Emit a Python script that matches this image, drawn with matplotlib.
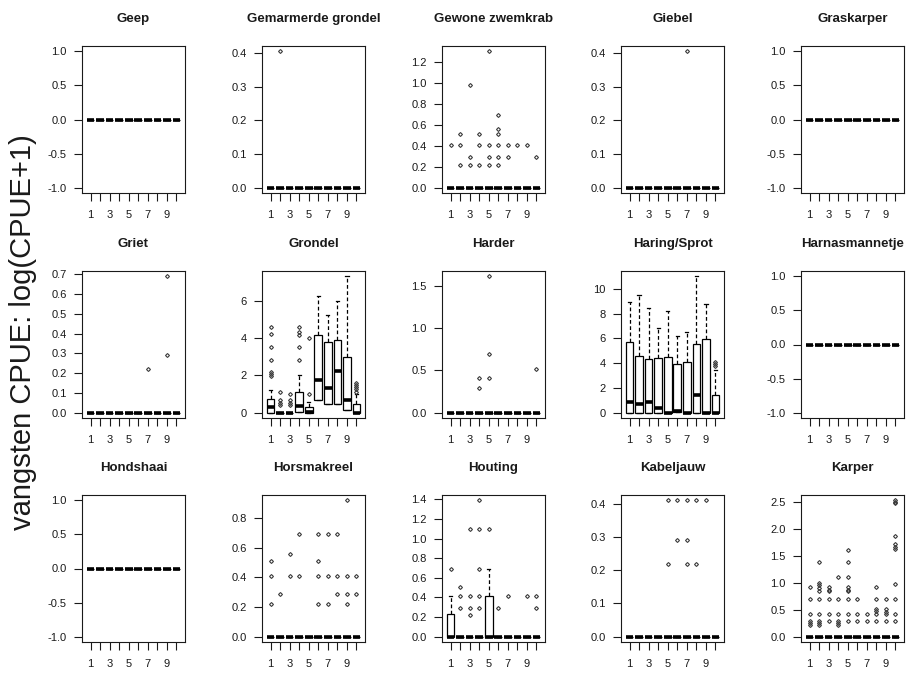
import matplotlib
matplotlib.use("Agg")
import matplotlib.pyplot as plt
from matplotlib.ticker import MultipleLocator

plt.rcParams['font.family'] = ['Liberation Sans', 'DejaVu Sans']
plt.rcParams['axes.unicode_minus'] = False

names = ["Geep", "Gemarmerde grondel", "Gewone zwemkrab", "Giebel", "Graskarper",
         "Griet", "Grondel", "Harder", "Haring/Sprot", "Harnasmannetje",
         "Hondshaai", "Horsmakreel", "Houting", "Kabeljauw", "Karper"]
groups = list(range(1, 11))
xlabels = ["1", "", "3", "", "5", "", "7", "", "9", ""]

# tick step on the y axis for each species (empty panels get a fixed -1..1)
ystep = [0.5, 0.1, 0.2, 0.1, 0.5,
         0.1, 2, 0.5, 2, 0.5,
         0.5, 0.2, 0.2, 0.1, 0.5]

zero10 = [0] * 10

# box statistics: lower hinge, median, upper hinge, upper whisker
grondel_q1 = [0, 0, 0, 0.05, 0, 0.7, 0.45, 0.45, 0.15, 0]
grondel_med = [0.28, 0, 0, 0.35, 0.05, 1.75, 1.3, 2.25, 0.7, 0]
grondel_q3 = [0.72, 0, 0, 1.1, 0.28, 4.15, 3.8, 3.9, 3.0, 0.48]
grondel_hi = [1.23, 0, 0, 2.0, 0.55, 6.25, 5.25, 6.0, 7.3, 0.98]

haring_q1 = [0, 0, 0, 0, 0, 0.05, 0, 0, 0, 0]
haring_med = [0.86, 0.72, 0.86, 0.38, 0, 0.1, 0, 1.45, 0, 0]
haring_q3 = [5.71, 4.61, 4.32, 4.42, 4.53, 3.91, 4.13, 5.58, 5.92, 1.42]
haring_hi = [8.93, 9.54, 8.47, 6.81, 8.2, 6.19, 6.51, 11.02, 8.79, 3.45]

houting_q3 = [0.23, 0, 0, 0, 0.41, 0, 0, 0, 0, 0]
houting_hi = [0.41, 0, 0, 0, 0.69, 0, 0, 0, 0, 0]

boxes = {
    "Grondel": (grondel_q1, grondel_med, grondel_q3, grondel_hi),
    "Haring/Sprot": (haring_q1, haring_med, haring_q3, haring_hi),
    "Houting": (zero10, zero10, houting_q3, houting_hi),
}

# outlying points per group
no_fliers = [[]] * 10
fliers = {
    "Gemarmerde grondel": [[], [0.405], [], [], [], [], [], [], [], []],
    "Gewone zwemkrab": [[0.41], [0.51, 0.41, 0.22], [0.98, 0.29, 0.22],
                        [0.51, 0.41, 0.22], [1.30, 0.41, 0.29, 0.22],
                        [0.69, 0.56, 0.51, 0.41, 0.29, 0.22], [0.41, 0.29],
                        [0.41], [0.41], [0.29]],
    "Giebel": [[], [], [], [], [], [], [0.405], [], [], []],
    "Griet": [[], [], [], [], [], [], [0.22], [], [0.69, 0.29], []],
    "Grondel": [[4.58, 4.19, 3.52, 2.83, 2.2, 2.08, 1.97],
                [1.1, 0.69, 0.51, 0.41], [0.98, 0.69, 0.51, 0.41],
                [4.6, 4.3, 4.15, 3.52, 2.83], [4.01, 0.98],
                [], [], [], [], [1.61, 1.5, 1.39, 1.28, 1.1]],
    "Harder": [[], [], [], [0.41, 0.29], [1.61, 0.69, 0.41],
               [], [], [], [], [0.51]],
    "Haring/Sprot": [[], [], [], [], [], [], [], [], [], [4.1, 3.95, 3.75]],
    "Horsmakreel": [[0.51, 0.41, 0.22], [0.29], [0.56, 0.41], [0.69, 0.41], [],
                    [0.69, 0.51, 0.41, 0.22], [0.69, 0.41, 0.22],
                    [0.69, 0.41, 0.29], [0.92, 0.41, 0.29, 0.22], [0.41, 0.29]],
    "Houting": [[0.69], [0.51, 0.41, 0.29], [1.1, 0.41, 0.29, 0.22],
                [1.39, 1.1, 0.69, 0.41, 0.29], [1.1], [0.29], [0.41], [],
                [0.41], [0.41, 0.29]],
    "Kabeljauw": [[], [], [], [], [0.41, 0.22], [0.41, 0.29],
                  [0.41, 0.29, 0.22], [0.41, 0.22], [0.41], []],
    "Karper": [[0.92, 0.69, 0.41, 0.29, 0.25, 0.22],
               [1.39, 1.0, 0.95, 0.9, 0.85, 0.69, 0.41, 0.29, 0.25, 0.22],
               [0.92, 0.87, 0.85, 0.69, 0.41, 0.29],
               [1.1, 0.69, 0.41, 0.29, 0.25, 0.22],
               [1.61, 1.39, 1.1, 0.92, 0.87, 0.85, 0.69, 0.41, 0.29],
               [0.69, 0.41, 0.29], [0.41, 0.29],
               [0.92, 0.69, 0.51, 0.47, 0.41, 0.29],
               [0.69, 0.51, 0.45, 0.41, 0.29],
               [2.53, 2.5, 2.48, 1.87, 1.72, 1.67, 1.63, 0.98, 0.69, 0.41, 0.29]],
}

W, H = 917, 675
lefts = [82, 262, 442, 621, 801]
tops = [46, 271, 495]
pw, ph = 103, 147

fig = plt.figure(figsize=(W / 100, H / 100), dpi=100)

for i, name in enumerate(names):
    r, c = divmod(i, 5)
    ax = fig.add_axes([lefts[c] / W, 1 - (tops[r] + ph) / H, pw / W, ph / H])
    q1, med, q3, hi = boxes.get(name, (zero10, zero10, zero10, zero10))
    fl = fliers.get(name, no_fliers)
    stats = []
    for j in range(10):
        stats.append(dict(q1=q1[j], med=med[j], q3=q3[j], whislo=q1[j],
                          whishi=hi[j], fliers=fl[j]))
    ax.bxp(stats, positions=groups, widths=0.8, capwidths=0.35,
           patch_artist=True, manage_ticks=False,
           boxprops=dict(facecolor='white', edgecolor='black', lw=0.9),
           medianprops=dict(color='black', lw=2.6, solid_capstyle='butt'),
           whiskerprops=dict(color='black', lw=0.9, linestyle=(0, (3, 2))),
           capprops=dict(color='black', lw=0.9),
           flierprops=dict(marker='D', markersize=2.0, markerfacecolor='none',
                           markeredgecolor='#3a3a3a', markeredgewidth=0.8,
                           linestyle='none'))

    top = max(max(hi), max((max(f) for f in fl if f), default=0))
    if top == 0:
        ax.set_ylim(-1.08, 1.08)
    else:
        ax.set_ylim(-0.04 * top, 1.04 * top)
    ax.yaxis.set_major_locator(MultipleLocator(ystep[i]))
    ax.set_xlim(0.1, 10.9)
    ax.set_xticks(groups)
    ax.set_xticklabels(xlabels)
    ax.tick_params(direction='out', length=6, width=0.8, labelsize=8,
                   colors='#1a1a1a')
    ax.tick_params(axis='x', pad=6)
    ax.tick_params(axis='y', pad=5)
    for s in ax.spines.values():
        s.set_linewidth(0.8)
        s.set_color('#1a1a1a')
    ax.set_title(name, fontsize=9.5, fontweight='bold', pad=17, color='#1a1a1a')

fig.text(0.025, 0.508, "vangsten CPUE: log(CPUE+1)", rotation=90,
         ha='center', va='center', fontsize=21, color='#1a1a1a')

fig.savefig("out.png", dpi=100)
